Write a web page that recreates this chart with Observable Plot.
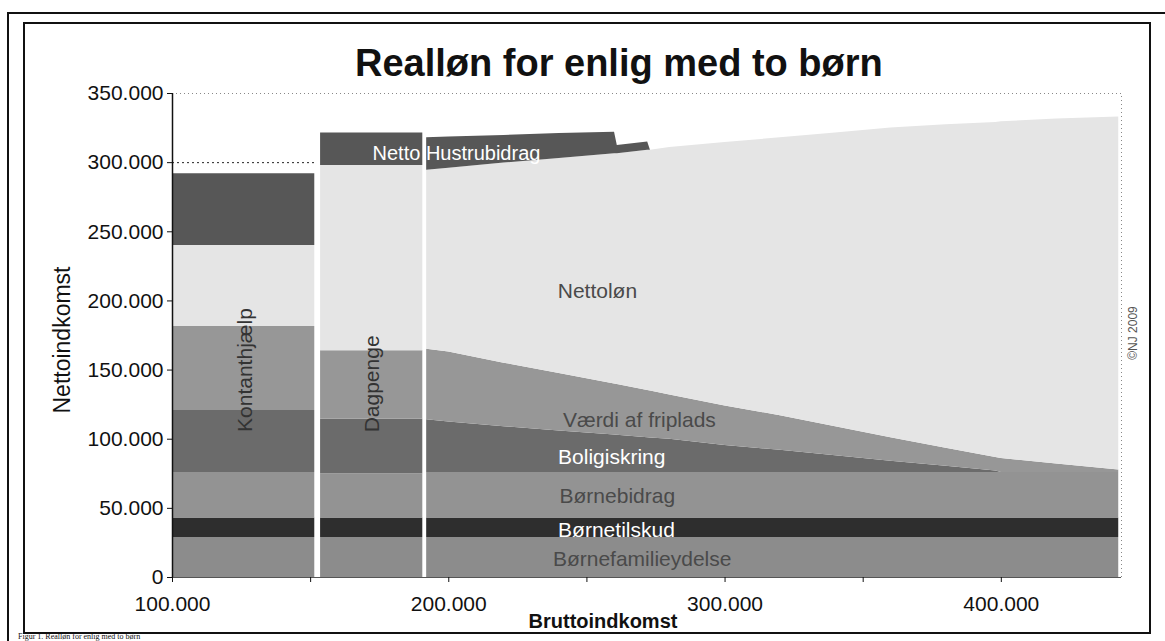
<!DOCTYPE html>
<html><head><meta charset="utf-8">
<script src="https://cdn.jsdelivr.net/npm/d3@7"></script>
<script src="https://cdn.jsdelivr.net/npm/@observablehq/plot@0.6"></script>
<style>
body{margin:0;width:1165px;height:641px;overflow:hidden;background:#fff;position:relative;font-family:"Liberation Sans",Arial,sans-serif;color:#111;}
.abs{position:absolute;white-space:nowrap;}
</style></head><body>
<div class="abs" style="left:7px;top:12px;width:1200px;height:700px;border:2px solid #111;"></div>
<div class="abs" style="left:23px;top:22px;width:1124px;height:608px;border:2px solid #111;"></div>
<div id="chart" class="abs" style="left:0;top:0;"></div>
<div class="abs" style="left:355px;top:44px;font-size:38px;font-weight:bold;line-height:1;">Realløn for enlig med to børn</div>
<div class="abs" style="left:62px;top:340px;font-size:23px;line-height:1;transform:translate(-50%,-50%) rotate(-90deg);">Nettoindkomst</div>
<div class="abs" style="left:603px;top:611px;font-size:20px;font-weight:bold;line-height:1;transform:translateX(-50%);">Bruttoindkomst</div>
<div class="abs" style="left:1133px;top:333px;font-size:12px;color:#555;line-height:1;transform:translate(-50%,-50%) rotate(-90deg);">©NJ 2009</div>
<div class="abs" style="left:18px;top:633px;font-size:8px;font-family:'Liberation Serif',serif;line-height:1;">Figur 1. Realløn for enlig med to børn</div>
<script>
// Series (bottom to top), values in thousand kr.
const series = ["Børnefamilieydelse", "Børnetilskud", "Børnebidrag", "Boligsikring", "Værdi af friplads", "Nettoløn", "Netto Hustrubidrag"];
const colors = ["#8c8c8c", "#2e2e2e", "#939393", "#6b6b6b", "#979797", "#e5e5e5", "#575757"];

// Kontanthjælp section
const kontantGross = [100, 151.5];
const kontantLevels = [29, 14, 33, 44.8, 60.7, 58.5, 52];

// Dagpenge section
const dagpengeGross = [153.6, 190.6];
const dagpengeLevels = [29, 14, 32, 39.5, 49.5, 134, 23.5];

// Løn section
const lonGross = [192, 200, 220, 240, 260, 261, 272, 273, 280, 300, 320, 340, 360, 380, 398, 400, 420, 442.5];
const lonBornefamilieydelse = [29, 29, 29, 29, 29, 29, 29, 29, 29, 29, 29, 29, 29, 29, 29, 29, 29, 29];
const lonBornetilskud = [14, 14, 14, 14, 14, 14, 14, 14, 14, 14, 14, 14, 14, 14, 14, 14, 14, 14];
const lonBornebidrag = [33, 33, 33, 33, 33, 33, 33, 33, 33, 33, 33, 33, 33, 33, 33, 33, 33, 33];
const lonBoligsikring = [38, 36.5, 33, 30, 27, 26.8, 25, 24.8, 24, 19.5, 16, 12, 8, 4.5, 1, 0, 0, 0];
const lonFriplads = [51, 50.5, 46, 41.6, 37, 36.8, 34.2, 34, 32, 28.5, 25, 21, 17, 13, 9.7, 10, 6, 1.7];
const lonNettolon = [129.5, 133, 144.7, 155.4, 166.5, 166.8, 173.8, 174.2, 179, 190.5, 201, 212.5, 224, 233.9, 242.3, 243.5, 249.5, 255.3];
const lonHustrubidrag = [23.5, 22.5, 20, 18, 15.5, 6, 6, 0, 0, 0, 0, 0, 0, 0, 0, 0, 0, 0];

// Axis ticks
const yTicks = [0, 50, 100, 150, 200, 250, 300, 350];
const xTicks = [100, 150, 200, 250, 300, 350, 400];
const xLabelTicks = [100, 200, 300, 400];

// Annotations (data units)
const bandLabels = [
  {text: "Nettoløn", x: 253.8, y: 207, dark: true},
  {text: "Værdi af friplads", x: 269, y: 114, dark: true},
  {text: "Boligiskring", x: 259, y: 87, dark: false},
  {text: "Børnebidrag", x: 261, y: 58.4, dark: true},
  {text: "Børnetilskud", x: 260.7, y: 33.8, dark: false},
  {text: "Børnefamilieydelse", x: 270, y: 13, dark: true}
];
const verticalLabels = [
  {text: "Kontanthjælp", x: 126.4, y: 150},
  {text: "Dagpenge", x: 172.4, y: 140}
];
const hustruLabel = [{text: "Netto Hustrubidrag", x: 172.4, y: 306.5}];

// Build long table
const table = [];
function addSection(name, gross, levelsBySeries) {
  gross.forEach((g, i) => {
    series.forEach((s, j) => {
      table.push({gross: g, net: levelsBySeries[j][i], series: s, key: s + "|" + name});
    });
  });
}
addSection("kontant", kontantGross, kontantLevels.map(v => kontantGross.map(() => v)));
addSection("dagpenge", dagpengeGross, dagpengeLevels.map(v => dagpengeGross.map(() => v)));
addSection("lon", lonGross, [lonBornefamilieydelse, lonBornetilskud, lonBornebidrag, lonBoligsikring, lonFriplads, lonNettolon, lonHustrubidrag]);

const fmt = d => d === 0 ? "0" : d + ".000";
const font = "Liberation Sans, Arial, sans-serif";

const chart = Plot.plot({
  width: 1165, height: 641,
  marginLeft: 172, marginRight: 44, marginTop: 93, marginBottom: 64,
  x: {domain: [100, 443.5]},
  y: {domain: [0, 350]},
  color: {domain: series, range: colors},
  style: {background: "transparent", fontFamily: font, fontSize: "21px", color: "#111", overflow: "visible"},
  marks: [
    Plot.ruleY([350], {stroke: "#888", strokeDasharray: "1,3"}),
    Plot.ruleX([443.5], {y1: 0, y2: 350, stroke: "#888", strokeDasharray: "1,3"}),
    Plot.areaY(table, {x: "gross", y: "net", z: "key", fill: "series", curve: "linear"}),
    Plot.ruleY([300], {x1: 100, x2: 151.5, stroke: "#222", strokeDasharray: "2,3"}),
    ...bandLabels.map(l => Plot.text([l], {x: "x", y: "y", text: "text", fill: l.dark ? "#4a4a4a" : "#ffffff", fontSize: 21, fontFamily: font})),
    ...verticalLabels.map(l => Plot.text([l], {x: "x", y: "y", text: "text", fill: "#333", fontSize: 21, rotate: -90, fontFamily: font})),
    Plot.text(hustruLabel, {x: "x", y: "y", text: "text", fill: "#ffffff", fontSize: 20, textAnchor: "start", fontFamily: font}),
    Plot.ruleX([100], {y1: 0, y2: 350, stroke: "#111", strokeWidth: 1.5}),
    Plot.ruleY([0], {stroke: "#555", strokeWidth: 1}),
    Plot.axisY({ticks: yTicks, tickFormat: fmt, tickSize: 5, tickPadding: 4, label: null, fontSize: 21}),
    Plot.axisX({ticks: xTicks, tickFormat: d => xLabelTicks.includes(d) ? fmt(d) : "", tickSize: 5, tickPadding: 14, label: null, fontSize: 21})
  ]
});
document.getElementById("chart").appendChild(chart);
</script>
</body></html>
